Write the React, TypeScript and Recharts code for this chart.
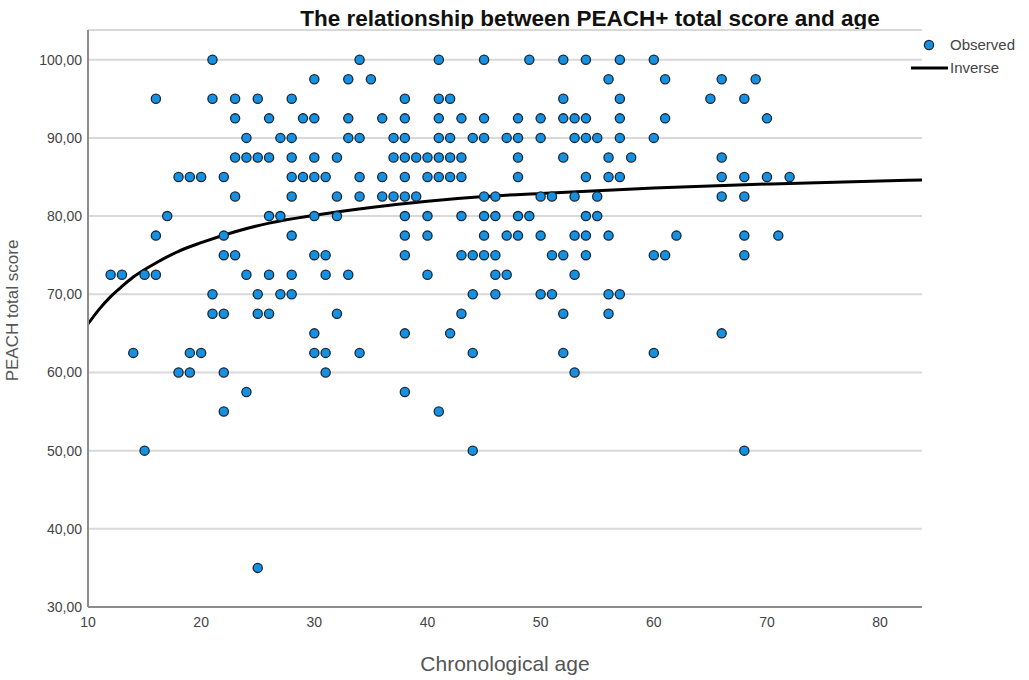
import { ComposedChart, Scatter, Line, XAxis, YAxis, CartesianGrid } from 'recharts';

const scoreLevels = [100, 97.5, 95, 92.5, 90, 87.5, 85, 82.5, 80, 77.5, 75, 72.5, 70, 67.5, 65, 62.5, 60, 57.5, 55, 50, 35];
const agesByLevel = [
  [21, 34, 41, 45, 49, 52, 54, 57, 60],
  [30, 33, 35, 56, 61, 66, 69],
  [16, 21, 23, 25, 28, 38, 41, 42, 52, 57, 65, 68],
  [23, 26, 29, 30, 33, 36, 38, 41, 43, 45, 48, 50, 52, 53, 54, 57, 61, 70],
  [24, 27, 28, 33, 34, 37, 38, 41, 42, 44, 45, 47, 48, 50, 53, 54, 55, 57, 60],
  [23, 24, 25, 26, 28, 30, 32, 37, 38, 39, 40, 41, 42, 43, 48, 52, 56, 58, 66],
  [18, 19, 20, 22, 28, 29, 30, 31, 34, 36, 38, 40, 41, 42, 43, 48, 54, 56, 57, 66, 68, 70, 72],
  [23, 28, 32, 34, 36, 37, 38, 39, 45, 46, 50, 51, 53, 55, 66, 68],
  [17, 26, 27, 30, 32, 38, 40, 43, 45, 46, 48, 49, 54, 55],
  [16, 22, 28, 38, 40, 45, 47, 48, 50, 53, 54, 56, 62, 68, 71],
  [22, 23, 30, 31, 38, 43, 44, 45, 46, 51, 52, 54, 60, 61, 68],
  [12, 13, 15, 16, 24, 26, 28, 31, 33, 40, 46, 47, 53],
  [21, 25, 27, 28, 44, 46, 50, 51, 56, 57],
  [21, 22, 25, 26, 32, 43, 52, 56],
  [30, 38, 42, 66],
  [14, 19, 20, 30, 31, 34, 44, 52, 60],
  [18, 19, 22, 31, 53],
  [24, 38],
  [22, 41],
  [15, 44, 68],
  [25],
];

// inverse fit curve
const curveAges = [10, 11, 12, 13, 14, 16, 18, 20, 23, 26, 30, 35, 40, 45, 50, 60, 70, 80, 83.7];
const curveScores = [66.2, 68.1, 69.7, 71.0, 72.2, 74.0, 75.5, 76.6, 78.0, 79.1, 80.1, 81.1, 81.9, 82.5, 82.9, 83.6, 84.1, 84.5, 84.6];

const xTicks = [10, 20, 30, 40, 50, 60, 70, 80];
const yTicks = [30, 40, 50, 60, 70, 80, 90, 100];

const observed = scoreLevels.flatMap((s, i) => agesByLevel[i].map((a) => ({ x: a, y: s })));
const curve = curveAges.map((a, i) => ({ x: a, y: curveScores[i] }));

const FONT = '"Liberation Sans", Arial, sans-serif';

function Dot(props: any) {
  const { cx, cy } = props;
  if (cx == null || cy == null) return null;
  return <circle cx={cx} cy={cy} r={4.6} fill="#1591e3" stroke="#1d2733" strokeWidth={1.3} />;
}

function LegendBox() {
  return (
    <div style={{ position: 'absolute', left: 911, top: 33, fontFamily: FONT, fontSize: 15, color: '#444' }}>
      <div style={{ display: 'flex', alignItems: 'center', height: 23 }}>
        <svg width={39} height={14}>
          <circle cx={18} cy={7} r={4.6} fill="#1591e3" stroke="#1d2733" strokeWidth={1.3} />
        </svg>
        <span>Observed</span>
      </div>
      <div style={{ display: 'flex', alignItems: 'center', height: 23 }}>
        <svg width={39} height={14}>
          <line x1={0} y1={7} x2={37} y2={7} stroke="#000" strokeWidth={3} />
        </svg>
        <span>Inverse</span>
      </div>
    </div>
  );
}

export default function App() {
  return (
    <div style={{ position: 'absolute', left: 0, top: 0, width: 1029, height: 680, background: '#fff' }}>
      <div
        style={{
          position: 'absolute',
          left: 0,
          width: 1180,
          top: 6,
          textAlign: 'center',
          fontFamily: FONT,
          fontWeight: 'bold',
          fontSize: 22.5,
          color: '#111',
        }}
      >
        The relationship between PEACH+ total score and age
      </div>
      <ComposedChart width={1029} height={680} margin={{ top: 30, right: 107, left: 0, bottom: 0 }}>
        <CartesianGrid vertical={false} stroke="#d9d9d9" strokeWidth={2} />
        <XAxis
          type="number"
          dataKey="x"
          domain={[10, 83.7]}
          ticks={xTicks}
          allowDataOverflow
          height={73}
          tickLine={false}
          tickSize={0}
          tickMargin={10}
          stroke="#8c8c8c"
          strokeWidth={2}
          tick={{ fill: '#444', fontSize: 14, fontFamily: FONT }}
          label={{ value: 'Chronological age', position: 'insideBottom', offset: 9, fill: '#555', fontSize: 21, fontFamily: FONT }}
        />
        <YAxis
          type="number"
          dataKey="y"
          domain={[30, 103.8]}
          ticks={yTicks}
          allowDataOverflow
          width={88}
          tickLine={false}
          tickSize={0}
          tickMargin={6}
          stroke="#8c8c8c"
          strokeWidth={2}
          tickFormatter={(v: number) => v.toFixed(2).replace('.', ',')}
          tick={{ fill: '#444', fontSize: 14, fontFamily: FONT }}
          label={{
            value: 'PEACH total score',
            angle: -90,
            position: 'insideLeft',
            offset: 12,
            fill: '#555',
            fontSize: 17,
            fontFamily: FONT,
            style: { textAnchor: 'middle' },
            dy: -8,
          }}
        />
        <Line
          data={curve}
          dataKey="y"
          type="monotone"
          stroke="#000"
          strokeWidth={3}
          dot={false}
          activeDot={false}
          isAnimationActive={false}
          name="Inverse"
        />
        <Scatter data={observed} dataKey="y" shape={<Dot />} isAnimationActive={false} name="Observed" />
      </ComposedChart>
      <LegendBox />
    </div>
  );
}
